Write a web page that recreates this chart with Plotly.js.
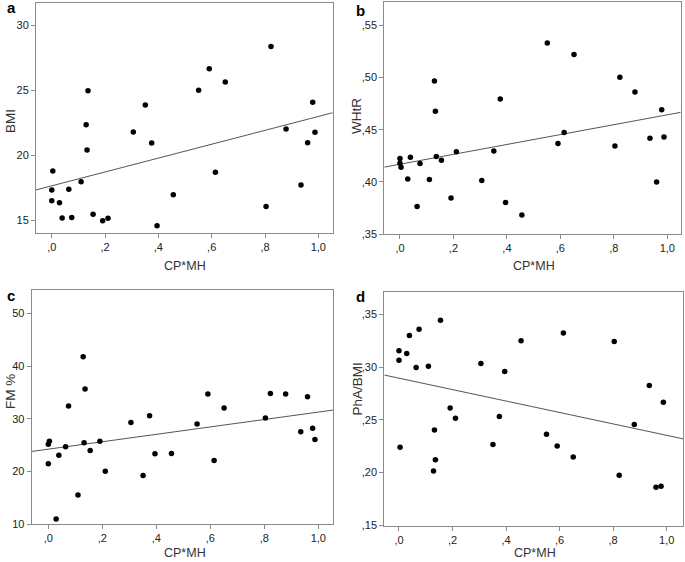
<!DOCTYPE html>
<html>
<head>
<meta charset="utf-8">
<script src="https://cdn.plot.ly/plotly-3.0.1.min.js"></script>
<style>html,body{margin:0;padding:0;background:#fff;}#chart{width:685px;height:562px;}</style>
</head>
<body>
<div id="chart"></div>
<script>
// Shared predictor (CP*MH) for all subjects
const cpmh = [0.000, 0.000, 0.004, 0.029, 0.039, 0.064, 0.075, 0.110, 0.129, 0.1325,
              0.136, 0.155, 0.191, 0.211, 0.306, 0.351, 0.375, 0.395, 0.456, 0.551,
              0.591, 0.614, 0.651, 0.804, 0.8225, 0.879, 0.935, 0.960, 0.979, 0.9875];
// Panel a: BMI
const bmi = [17.32, 16.49, 18.78, 16.34, 15.15, 17.37, 15.20, 17.96, 22.36, 20.40,
             24.98, 15.44, 14.95, 15.13, 21.79, 23.88, 20.94, 14.56, 16.95, 25.01,
             26.68, 18.68, 25.65, 16.05, 28.38, 22.02, 17.70, 20.97, 24.08, 21.77];
// Panel b: WHtR
const whtr = [0.4224, 0.4179, 0.4141, 0.4029, 0.4237, 0.3765, 0.4176, 0.4023, 0.4964, 0.4677,
              0.4243, 0.4208, 0.3848, 0.4288, 0.4013, 0.4297, 0.4792, 0.3803, 0.3685, 0.5328,
              0.4368, 0.4473, 0.5219, 0.4345, 0.5002, 0.4859, 0.4419, 0.4000, 0.4690, 0.4431];
// Panel c: FM %
const fm = [21.46, 25.19, 25.76, 11.01, 23.10, 24.68, 32.41, 15.57, 41.77, 25.44,
            35.63, 23.99, 25.76, 20.06, 29.30, 19.24, 30.57, 23.35, 23.42, 28.99,
            34.68, 22.09, 32.03, 30.13, 34.81, 34.68, 27.53, 34.18, 28.23, 26.08];
// Panel d: PhA/BMI
const phabmi = [0.3066, 0.3158, 0.2240, 0.3130, 0.3301, 0.2997, 0.3361, 0.3010, 0.2016, 0.2405,
                0.2123, 0.3446, 0.2614, 0.2516, 0.3035, 0.2266, 0.2532, 0.2959, 0.3253, 0.2364,
                0.2253, 0.3326, 0.2149, 0.3244, 0.1975, 0.2456, 0.2826, 0.1861, 0.1870, 0.2668];

// Tick labels
const xTickVals = [0, 0.2, 0.4, 0.6, 0.8, 1.0];
const xTickText = [",0", ",2", ",4", ",6", ",8", "1,0"];
const aTickVals = [15, 20, 25, 30];
const aTickText = ["15", "20", "25", "30"];
const bTickVals = [0.35, 0.40, 0.45, 0.50, 0.55];
const bTickText = [",35", ",40", ",45", ",50", ",55"];
const cTickVals = [10, 20, 30, 40, 50];
const cTickText = ["10", "20", "30", "40", "50"];
const dTickVals = [0.15, 0.20, 0.25, 0.30, 0.35];
const dTickText = [",15", ",20", ",25", ",30", ",35"];

const panelLetters = ["a", "b", "c", "d"];
const yTitles = ["BMI", "WHtR", "FM %", "PhA/BMI"];
const xTitle = "CP*MH";

function ols(x, y) {
  const n = x.length;
  let mx = 0, my = 0;
  for (let i = 0; i < n; i++) { mx += x[i]; my += y[i]; }
  mx /= n; my /= n;
  let sxy = 0, sxx = 0;
  for (let i = 0; i < n; i++) { sxy += (x[i] - mx) * (y[i] - my); sxx += (x[i] - mx) ** 2; }
  const b = sxy / sxx;
  return [my - b * mx, b];
}

const W = 685, H = 562;
const panels = [
  {y: bmi, xr: [-0.059, 1.054], yr: [14.02, 31.72], tv: aTickVals, tt: aTickText,
   dx: [0.0526, 0.4857], dy: [0.5859, 0.9941], letter: [11, 8], xt: [185, 266], yt: [10, 121]},
  {y: whtr, xr: [-0.0587, 1.050], yr: [0.35, 0.5723], tv: bTickVals, tt: bTickText,
   dx: [0.5610, 0.9937], dy: [0.5831, 0.9970], letter: [360, 11], xt: [534, 266], yt: [356, 116]},
  {y: fm, xr: [-0.0615, 1.0556], yr: [10, 54.42], tv: cTickVals, tt: cTickText,
   dx: [0.0463, 0.4866], dy: [0.0671, 0.4840], letter: [11, 295], xt: [185, 552.5], yt: [10, 392]},
  {y: phabmi, xr: [-0.0549, 1.062], yr: [0.1493, 0.3718], tv: dTickVals, tt: dTickText,
   dx: [0.5610, 0.9975], dy: [0.0641, 0.4810], letter: [360, 296], xt: [534.5, 552.5], yt: [356.5, 389]}
];

const font = "Liberation Sans, Arial, sans-serif";
const traces = [];
const layout = {
  width: W, height: H,
  margin: {l: 0, r: 0, t: 0, b: 0},
  paper_bgcolor: "#fff", plot_bgcolor: "#fff",
  showlegend: false,
  font: {family: font, color: "#222", size: 11},
  annotations: []
};

function paperAnn(text, px, py, size, angle, color) {
  return {
    text: text, xref: "paper", yref: "paper",
    x: px / W, y: 1 - py / H, xanchor: "center", yanchor: "middle",
    showarrow: false, textangle: angle || 0, borderpad: 0,
    font: {family: font, size: size, color: color}
  };
}

panels.forEach((p, i) => {
  const n = i + 1;
  const xa = "x" + (n === 1 ? "" : n), ya = "y" + (n === 1 ? "" : n);
  const [a0, b0] = ols(cpmh, p.y);
  traces.push({
    x: [p.xr[0], p.xr[1]], y: [a0 + b0 * p.xr[0], a0 + b0 * p.xr[1]],
    mode: "lines", line: {color: "#555", width: 1}, xaxis: xa, yaxis: ya,
    hoverinfo: "skip"
  });
  traces.push({
    x: cpmh, y: p.y, mode: "markers", type: "scatter",
    marker: {color: "#000", size: 5.5}, xaxis: xa, yaxis: ya
  });
  const common = {
    showgrid: false, zeroline: false, showline: true, mirror: true,
    linecolor: "#8a8a8a", linewidth: 1, ticks: "outside", ticklen: 4,
    tickcolor: "#8a8a8a", tickfont: {family: font, size: 11, color: "#222"},
    automargin: false, fixedrange: true
  };
  layout["xaxis" + (n === 1 ? "" : n)] = Object.assign({}, common, {
    domain: p.dx, range: p.xr, tickvals: xTickVals, ticktext: xTickText, anchor: ya
  });
  layout["yaxis" + (n === 1 ? "" : n)] = Object.assign({}, common, {
    domain: p.dy, range: p.yr, tickvals: p.tv, ticktext: p.tt, anchor: xa
  });
  layout.annotations.push(paperAnn("<b>" + panelLetters[i] + "</b>", p.letter[0], p.letter[1], 15, 0, "#000"));
  layout.annotations.push(paperAnn(xTitle, p.xt[0], p.xt[1], 12.5, 0, "#333"));
  layout.annotations.push(paperAnn(yTitles[i], p.yt[0], p.yt[1], 13.5, -90, "#333"));
});

Plotly.newPlot("chart", traces, layout, {displayModeBar: false, staticPlot: true});
</script>
</body>
</html>
